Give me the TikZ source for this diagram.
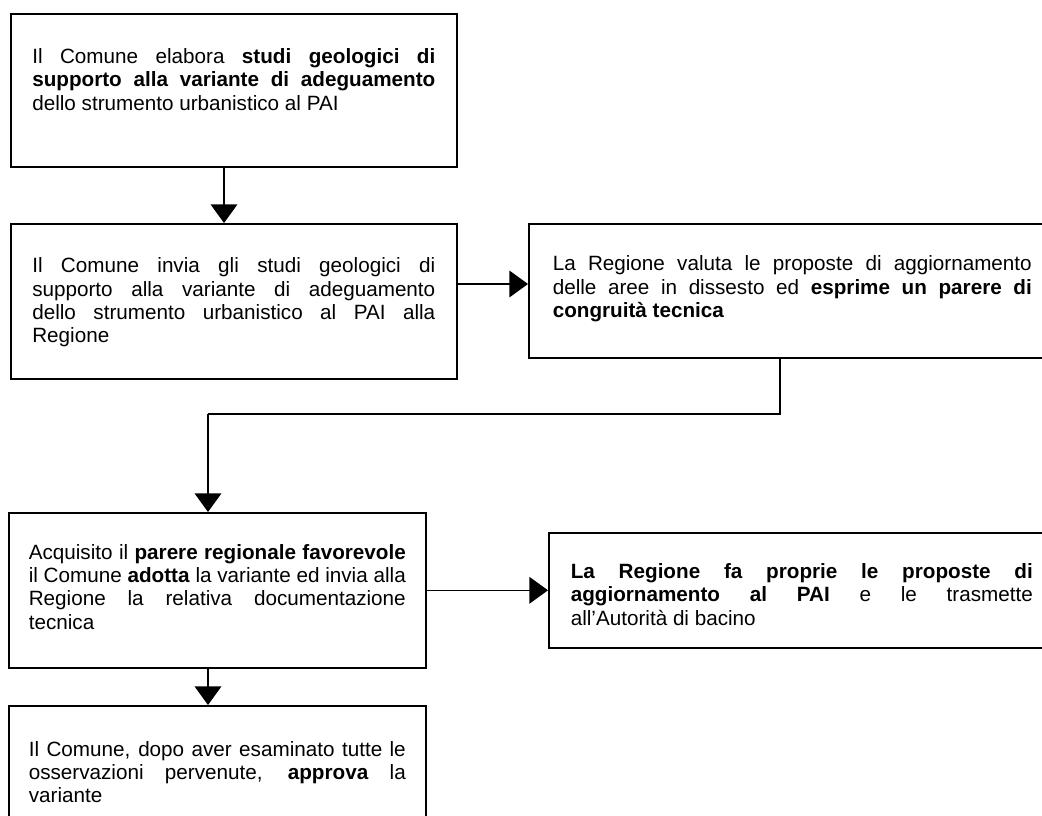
\documentclass[tikz,border=0pt]{standalone}
\usepackage{fontspec}
\setmainfont{Liberation Sans}
\usetikzlibrary{arrows.meta}
\hyphenpenalty=10000
\newcommand{\fbxt}[4]{\parbox[t][#1][t]{#2}{\vspace*{#3}#4}}
\tikzset{
  flowbox/.style={draw=black, line width=1.2pt, rectangle, inner ysep=0pt, anchor=north west,
    font=\fontsize{15.5pt}{17.5pt}\selectfont},
  arr/.style={line width=1.2pt, -{Triangle[length=14pt,width=20pt]}},
  conn/.style={line width=1.2pt}
}
\begin{document}
\begin{tikzpicture}[x=0.75pt,y=-0.75pt]
\useasboundingbox (0,0) rectangle (1042,816);
\clip (0,0) rectangle (1042,816);
\fill[white] (0,0) rectangle (1042,816);

\node[flowbox, inner xsep=16.125pt] (b1) at (10,13)
  {\fbxt{114.75pt}{302.25pt}{26pt}{Il Comune elabora \textbf{studi geologici di}\linebreak
   \textbf{supporto alla variante di adeguamento}\linebreak dello strumento urbanistico al PAI}};

\node[flowbox, inner xsep=16.125pt] (b2) at (10,223)
  {\fbxt{116.25pt}{302.25pt}{25.5pt}{Il Comune invia gli studi geologici di\linebreak
   supporto alla variante di adeguamento\linebreak dello strumento urbanistico al PAI alla\linebreak Regione}};

\node[flowbox, inner xsep=18pt] (b3) at (528,223)
  {\fbxt{100.5pt}{359.25pt}{24pt}{La Regione valuta le proposte di aggiornamento\linebreak
   delle aree in dissesto ed \textbf{esprime un parere di}\linebreak \textbf{congruità tecnica}}};

\node[flowbox, inner xsep=15pt] (b4) at (8,512)
  {\fbxt{116.25pt}{282.75pt}{23.5pt}{Acquisito il \textbf{parere regionale favorevole}\linebreak
   il Comune \textbf{adotta} la variante ed invia alla\linebreak Regione la relativa documentazione\linebreak tecnica}};

\node[flowbox, inner xsep=15pt] (b5) at (8,705)
  {\fbxt{112.5pt}{282.75pt}{26.5pt}{Il Comune, dopo aver esaminato tutte le\linebreak
   osservazioni pervenute, \textbf{approva} la\linebreak variante}};

\node[flowbox, inner xsep=16.5pt] (b6) at (548,532)
  {\fbxt{86.25pt}{346.5pt}{23pt}{\textbf{La Regione fa proprie le proposte di}\linebreak
   \textbf{aggiornamento al PAI} e le trasmette\linebreak all'Autorità di bacino}};

\coordinate (r1) at (0,284);
\coordinate (c1) at (780,0);
\coordinate (bend) at (208,414);
\coordinate (c0) at (224,0);

\draw[arr] (b1.south -| c0) -- (b2.north -| c0);
\draw[arr] (b2.east |- r1) -- (b3.west |- r1);
\draw[conn] (b3.south -| c1) |- (bend);
\draw[arr] (bend) -- (b4.north -| bend);
\draw[arr] (b4.south -| bend) -- (b5.north -| bend);
\draw[arr] (b4.east) -- (b6.west);
\end{tikzpicture}
\end{document}
